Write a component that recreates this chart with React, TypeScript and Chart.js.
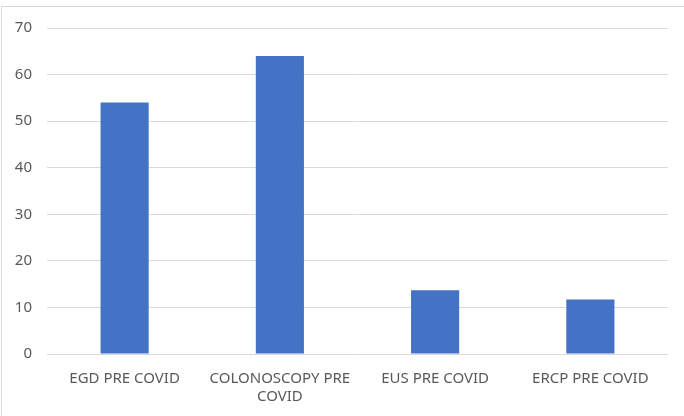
import React, { useEffect, useRef } from "react";
import { Chart, registerables } from "chart.js";

Chart.register(...registerables);

const categories: (string | string[])[] = [
  "EGD PRE COVID",
  ["COLONOSCOPY PRE", "COVID"],
  "EUS PRE COVID",
  "ERCP PRE COVID",
];
const values: number[] = [54, 64, 13.7, 11.7];
const yMin = 0;
const yMax = 70;
const yStep = 10;

export default function App() {
  const ref = useRef<HTMLCanvasElement | null>(null);
  useEffect(() => {
    if (!ref.current) return;
    const font = { family: "'Noto Sans', 'Open Sans', sans-serif", size: 15 };
    const chart = new Chart(ref.current, {
      type: "bar",
      data: {
        labels: categories,
        datasets: [
          {
            data: values,
            backgroundColor: "#4472C4",
            borderWidth: 0,
            categoryPercentage: 1,
            barPercentage: 0.31,
          },
        ],
      },
      options: {
        animation: false,
        responsive: false,
        maintainAspectRatio: false,
        layout: { padding: { top: 28, right: 16, left: 0, bottom: 0 } },
        plugins: { legend: { display: false }, tooltip: { enabled: false } },
        scales: {
          x: {
            grid: { display: false, drawTicks: false },
            border: { display: false },
            ticks: { color: "#595959", font, padding: 16, maxRotation: 0, autoSkip: false },
            afterFit: (s: any) => {
              s.height = 62;
            },
          },
          y: {
            min: yMin,
            max: yMax,
            grid: { color: "#d9d9d9", lineWidth: 1, drawTicks: false },
            border: { display: false },
            ticks: { stepSize: yStep, color: "#595959", font, padding: 15 },
            afterFit: (s: any) => {
              s.width = 47;
            },
          },
        },
      },
    });
    return () => chart.destroy();
  }, []);
  return (
    <div style={{ position: "fixed", left: 0, top: 0, width: 684, height: 416, background: "#fff" }}>
      <div
        style={{
          position: "absolute",
          left: 1,
          top: 6,
          width: 700,
          height: 420,
          border: "1px solid #d9d9d9",
          boxSizing: "border-box",
        }}
      />
      <canvas ref={ref} width={684} height={416} style={{ position: "absolute", left: 0, top: 0 }} />
    </div>
  );
}
